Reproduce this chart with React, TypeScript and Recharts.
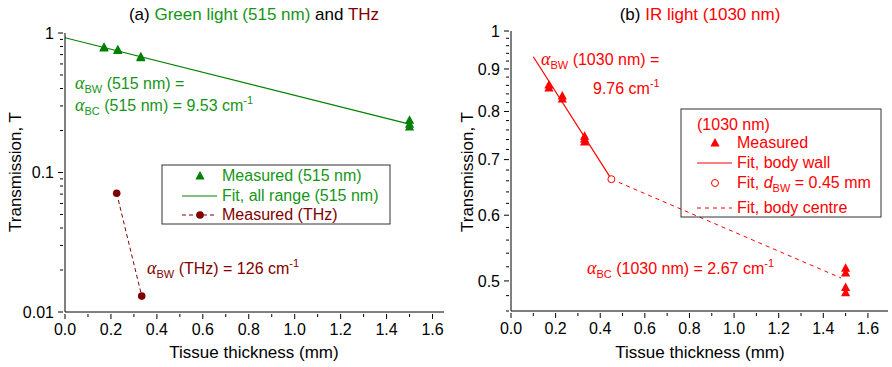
import React from "react";
import { ComposedChart, Line, Scatter, XAxis, YAxis } from "recharts";

const FONT = "'Liberation Sans', Arial, Helvetica, sans-serif";
const GREEK = "'Liberation Serif', 'Times New Roman', serif";
const GREEN = "#008000";
const GREEN_TEXT = "#169616";
const DARK_RED = "#800000";
const RED = "#ff0000";

// tissue thickness axis (mm)
const thicknessMajorTicks = [0, 0.2, 0.4, 0.6, 0.8, 1.0, 1.2, 1.4, 1.6];
const thicknessMinorTicks = [0.1, 0.3, 0.5, 0.7, 0.9, 1.1, 1.3, 1.5];

// panel (a): green light + THz
const greenTransMajorTicks = [0.01, 0.1, 1];
const greenTransMinorTicks = [
  0.02, 0.03, 0.04, 0.05, 0.06, 0.07, 0.08, 0.09,
  0.2, 0.3, 0.4, 0.5, 0.6, 0.7, 0.8, 0.9,
];
const greenThickness = [0.17, 0.17, 0.23, 0.23, 0.33, 0.33, 1.5, 1.5, 1.5];
const greenMeasured = [0.79, 0.78, 0.76, 0.748, 0.675, 0.665, 0.237, 0.222, 0.212];
const greenFitThickness = [0, 1.5];
const greenFitValues = [0.925, 0.222];
const thzThickness = [0.225, 0.334];
const thzMeasured = [0.071, 0.013];

// panel (b): IR light
const irTransMajorTicks = [0.5, 0.6, 0.7, 0.8, 0.9, 1];
const irTransMinorTicks = [
  0.46, 0.48, 0.52, 0.54, 0.56, 0.58, 0.62, 0.64, 0.66, 0.68,
  0.72, 0.74, 0.76, 0.78, 0.82, 0.84, 0.86, 0.88, 0.92, 0.94, 0.96, 0.98,
];
const irThickness = [0.17, 0.17, 0.23, 0.23, 0.33, 0.33, 0.33, 1.5, 1.5, 1.5, 1.5];
const irMeasured = [0.861, 0.854, 0.835, 0.828, 0.747, 0.741, 0.735, 0.518, 0.511, 0.491, 0.484];
const irWallFitThickness = [0.1, 0.45];
const irWallFitValues = [0.931, 0.663];
const irWallDepth = [0.45];
const irWallDepthValue = [0.663];
const irCentreFitThickness = [0.45, 1.48];
const irCentreFitValues = [0.663, 0.504];

const toPoints = (xs: number[], ys: number[]) => xs.map((x, i) => ({ x, t: ys[i] }));
const isIn = (v: number, list: number[]) => list.some((m) => Math.abs(m - v) < 1e-9);

const fmtX = (v: number) => v.toFixed(1);
const fmtY = (v: number) => String(v);

// one tick renderer for all four sides; majors get a label (bottom/left) and a longer mark
function makeTick(side: "bottom" | "left" | "top" | "right", majors: number[], fmt?: (v: number) => string) {
  return (props: any) => {
    const { x, y, payload } = props;
    const major = isIn(payload.value, majors);
    const len = major ? 5 : 3;
    if (side === "bottom") {
      return (
        <g>
          <line x1={x} y1={y} x2={x} y2={y + len} stroke="#000" />
          {major && fmt ? (
            <text x={x} y={y + 21} textAnchor="middle" fontSize={16} fontFamily={FONT} fill="#000">
              {fmt(payload.value)}
            </text>
          ) : null}
        </g>
      );
    }
    if (side === "left") {
      return (
        <g>
          <line x1={x} y1={y} x2={x - len} y2={y} stroke="#000" />
          {major && fmt ? (
            <text x={x - 9} y={y} dy="0.35em" textAnchor="end" fontSize={16} fontFamily={FONT} fill="#000">
              {fmt(payload.value)}
            </text>
          ) : null}
        </g>
      );
    }
    if (side === "top") {
      return <line x1={x} y1={y} x2={x} y2={y + len} stroke="#000" />;
    }
    return <line x1={x} y1={y} x2={x - len} y2={y} stroke="#000" />;
  };
}

const Triangle = (color: string) => (props: any) => {
  const { cx, cy } = props;
  return <polygon points={`${cx},${cy - 5} ${cx - 4.6},${cy + 3.5} ${cx + 4.6},${cy + 3.5}`} fill={color} />;
};
const Dot = (color: string) => (props: any) => <circle cx={props.cx} cy={props.cy} r={3.8} fill={color} />;
const Ring = (color: string) => (props: any) => (
  <circle cx={props.cx} cy={props.cy} r={3.5} fill="#fff" stroke={color} strokeWidth={1} />
);

type FrameProps = {
  xMax: number;
  yDomain: [number, number];
  yMajors: number[];
  yMinors: number[];
  xHeight: number;
};

// bottom + left labelled axes, top + right mirrored ones to close the box
function frameAxes({ xMax, yDomain, yMajors, yMinors, xHeight }: FrameProps) {
  const xTicks = [...thicknessMajorTicks, ...thicknessMinorTicks];
  const yTicks = [...yMajors, ...yMinors];
  const common = {
    type: "number" as const,
    allowDataOverflow: true,
    interval: 0 as const,
    tickSize: 0,
    tickLine: false,
    axisLine: { stroke: "#000" },
  };
  return [
    <XAxis
      key="x"
      xAxisId="x"
      dataKey="x"
      {...common}
      domain={[0, xMax]}
      ticks={xTicks}
      height={xHeight}
      tick={makeTick("bottom", thicknessMajorTicks, fmtX)}
    />,
    <XAxis
      key="xTop"
      xAxisId="xTop"
      orientation="top"
      {...common}
      domain={[0, xMax]}
      ticks={xTicks}
      height={0}
      tick={makeTick("top", thicknessMajorTicks)}
    />,
    <YAxis
      key="y"
      yAxisId="y"
      dataKey="t"
      scale="log"
      {...common}
      domain={yDomain}
      ticks={yTicks}
      width={65}
      tick={makeTick("left", yMajors, fmtY)}
    />,
    <YAxis
      key="yRight"
      yAxisId="yRight"
      orientation="right"
      scale="log"
      {...common}
      domain={yDomain}
      ticks={yTicks}
      width={0}
      tick={makeTick("right", yMajors)}
    />,
  ];
}

function GreenPanel() {
  return (
    <ComposedChart width={450} height={367} margin={{ top: 33, right: 6, bottom: 0, left: 0 }}>
      {frameAxes({
        xMax: 1.65,
        yDomain: [0.01, 1],
        yMajors: greenTransMajorTicks,
        yMinors: greenTransMinorTicks,
        xHeight: 55,
      })}
      <Line
        xAxisId="x"
        yAxisId="y"
        data={toPoints(greenFitThickness, greenFitValues)}
        dataKey="t"
        type="linear"
        stroke={GREEN}
        strokeWidth={1.2}
        dot={false}
        activeDot={false}
        isAnimationActive={false}
      />
      <Scatter
        xAxisId="x"
        yAxisId="y"
        data={toPoints(greenThickness, greenMeasured)}
        dataKey="t"
        shape={Triangle(GREEN)}
        isAnimationActive={false}
      />
      <Scatter
        xAxisId="x"
        yAxisId="y"
        data={toPoints(thzThickness, thzMeasured)}
        dataKey="t"
        fill={DARK_RED}
        line={{ stroke: DARK_RED, strokeDasharray: "4 3", strokeWidth: 1 }}
        lineType="joint"
        shape={Dot(DARK_RED)}
        isAnimationActive={false}
      />
    </ComposedChart>
  );
}

function IrPanel() {
  return (
    <ComposedChart width={443} height={367} margin={{ top: 31, right: 1, bottom: 0, left: 0 }}>
      {frameAxes({
        xMax: 1.69,
        yDomain: [0.46, 1],
        yMajors: irTransMajorTicks,
        yMinors: irTransMinorTicks,
        xHeight: 56,
      })}
      <Line
        xAxisId="x"
        yAxisId="y"
        data={toPoints(irWallFitThickness, irWallFitValues)}
        dataKey="t"
        type="linear"
        stroke={RED}
        strokeWidth={1.2}
        dot={false}
        activeDot={false}
        isAnimationActive={false}
      />
      <Line
        xAxisId="x"
        yAxisId="y"
        data={toPoints(irCentreFitThickness, irCentreFitValues)}
        dataKey="t"
        type="linear"
        stroke={RED}
        strokeWidth={1}
        strokeDasharray="4 4"
        dot={false}
        activeDot={false}
        isAnimationActive={false}
      />
      <Scatter
        xAxisId="x"
        yAxisId="y"
        data={toPoints(irThickness, irMeasured)}
        dataKey="t"
        shape={Triangle(RED)}
        isAnimationActive={false}
      />
      <Scatter
        xAxisId="x"
        yAxisId="y"
        data={toPoints(irWallDepth, irWallDepthValue)}
        dataKey="t"
        shape={Ring(RED)}
        isAnimationActive={false}
      />
    </ComposedChart>
  );
}

function Overlay() {
  const t = { fontFamily: FONT, fontSize: 16 };
  const sub = { fontSize: 11 };
  return (
    <svg
      width={892}
      height={367}
      style={{ position: "absolute", left: 0, top: 0, pointerEvents: "none" }}
    >
      {/* titles */}
      <text x={254} y={20} textAnchor="middle" {...t} fontSize={17}>
        <tspan fill="#000">(a) </tspan>
        <tspan fill={GREEN_TEXT}>Green light (515 nm)</tspan>
        <tspan fill="#000"> and </tspan>
        <tspan fill={DARK_RED}>THz</tspan>
      </text>
      <text x={700} y={20} textAnchor="middle" {...t} fontSize={17}>
        <tspan fill="#000">(b) </tspan>
        <tspan fill={RED}>IR light (1030 nm)</tspan>
      </text>

      {/* axis titles */}
      <text x={254} y={358} textAnchor="middle" {...t} fontSize={17} fill="#000">
        Tissue thickness (mm)
      </text>
      <text x={700} y={358} textAnchor="middle" {...t} fontSize={17} fill="#000">
        Tissue thickness (mm)
      </text>
      <text x={21} y={172} textAnchor="middle" {...t} fontSize={17} fill="#000" transform="rotate(-90 21 172)">
        Transmission, T
      </text>
      <text x={473} y={172} textAnchor="middle" {...t} fontSize={17} fill="#000" transform="rotate(-90 473 172)">
        Transmission, T
      </text>

      {/* panel (a) annotations */}
      <text x={75} y={89} {...t} fill={GREEN_TEXT}>
        <tspan fontFamily={GREEK} fontStyle="italic" fontSize={18}>α</tspan>
        <tspan {...sub} dy={4}>BW</tspan>
        <tspan dy={-4}> (515 nm) =</tspan>
      </text>
      <text x={75} y={111} {...t} fill={GREEN_TEXT}>
        <tspan fontFamily={GREEK} fontStyle="italic" fontSize={18}>α</tspan>
        <tspan {...sub} dy={4}>BC</tspan>
        <tspan dy={-4}> (515 nm) = 9.53 cm</tspan>
        <tspan {...sub} dy={-7}>-1</tspan>
      </text>
      <text x={147} y={274} {...t} fill={DARK_RED}>
        <tspan fontFamily={GREEK} fontStyle="italic" fontSize={18}>α</tspan>
        <tspan {...sub} dy={4}>BW</tspan>
        <tspan dy={-4}> (THz) = 126 cm</tspan>
        <tspan {...sub} dy={-7}>-1</tspan>
      </text>

      {/* panel (a) legend */}
      <rect x={162} y={165} width={228} height={59} fill="none" stroke="#333" strokeWidth={1} />
      <polygon points="200,171 195.4,179.5 204.6,179.5" fill={GREEN} />
      <text x={222} y={181} {...t} fill={GREEN_TEXT}>Measured (515 nm)</text>
      <line x1={182} y1={196} x2={217} y2={196} stroke={GREEN} strokeWidth={1.2} />
      <text x={222} y={201} {...t} fill={GREEN_TEXT}>Fit, all range (515 nm)</text>
      <line x1={182} y1={215} x2={217} y2={215} stroke={DARK_RED} strokeDasharray="4 3" />
      <circle cx={200} cy={215} r={3.8} fill={DARK_RED} />
      <text x={222} y={220} {...t} fill={DARK_RED}>Measured (THz)</text>

      {/* panel (b) annotations */}
      <text x={541} y={65} {...t} fill={RED}>
        <tspan fontFamily={GREEK} fontStyle="italic" fontSize={18}>α</tspan>
        <tspan {...sub} dy={4}>BW</tspan>
        <tspan dy={-4}> (1030 nm) =</tspan>
      </text>
      <text x={593} y={94} {...t} fill={RED}>
        9.76 cm<tspan {...sub} dy={-7}>-1</tspan>
      </text>
      <text x={587} y={274} {...t} fill={RED}>
        <tspan fontFamily={GREEK} fontStyle="italic" fontSize={18}>α</tspan>
        <tspan {...sub} dy={4}>BC</tspan>
        <tspan dy={-4}> (1030 nm) = 2.67 cm</tspan>
        <tspan {...sub} dy={-7}>-1</tspan>
      </text>

      {/* panel (b) legend */}
      <rect x={681} y={109} width={200} height={108} fill="none" stroke="#333" strokeWidth={1} />
      <text x={697} y={130} {...t} fill={RED}>(1030 nm)</text>
      <polygon points="715,138 710.4,146.5 719.6,146.5" fill={RED} />
      <text x={737} y={148} {...t} fill={RED}>Measured</text>
      <line x1={697} y1={163} x2={732} y2={163} stroke={RED} strokeWidth={1.2} />
      <text x={737} y={168} {...t} fill={RED}>Fit, body wall</text>
      <circle cx={715} cy={183} r={3.5} fill="#fff" stroke={RED} />
      <text x={737} y={188} {...t} fill={RED}>
        Fit, <tspan fontStyle="italic">d</tspan>
        <tspan {...sub} dy={4}>BW</tspan>
        <tspan dy={-4}> = 0.45 mm</tspan>
      </text>
      <line x1={697} y1={208} x2={732} y2={208} stroke={RED} strokeDasharray="4 4" />
      <text x={737} y={213} {...t} fill={RED}>Fit, body centre</text>
    </svg>
  );
}

export default function App() {
  return (
    <div style={{ position: "absolute", left: 0, top: 0, width: 892, height: 367, background: "#fff", fontFamily: FONT }}>
      <div style={{ position: "absolute", left: 0, top: 0 }}>
        <GreenPanel />
      </div>
      <div style={{ position: "absolute", left: 446, top: 0 }}>
        <IrPanel />
      </div>
      <Overlay />
    </div>
  );
}
